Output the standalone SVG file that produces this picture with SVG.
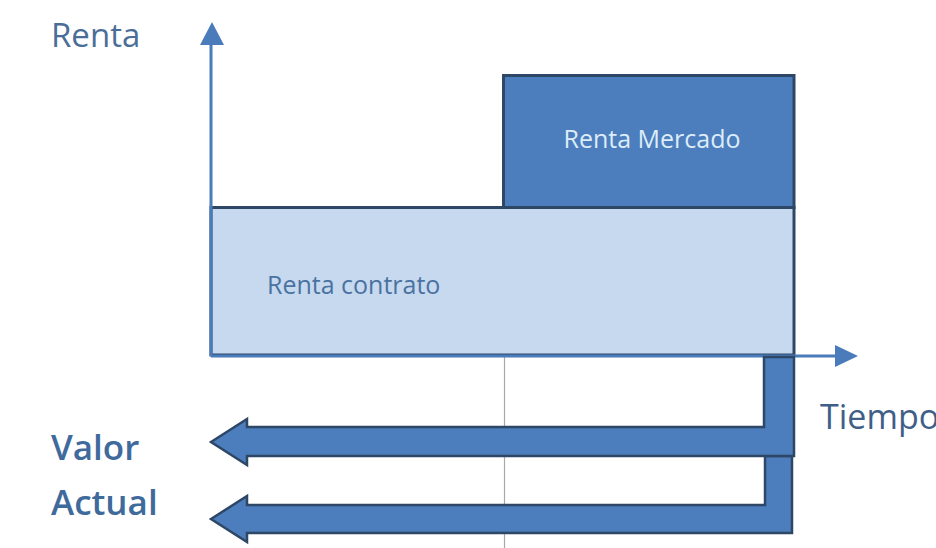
<svg xmlns="http://www.w3.org/2000/svg" width="936" height="548" viewBox="0 0 936 548">
<style>
.lbl{font-family:"Open Sans","Noto Sans","Liberation Sans",sans-serif;font-weight:500;}
.axis{stroke:#4a7bba;stroke-width:3;fill:none;}
.head{fill:#4a7bba;}
.box{stroke:#2e4766;stroke-width:3;}
.flow{fill:#4c7dbd;stroke:#2e4766;stroke-width:2.5;stroke-linejoin:miter;}
</style>
<rect width="936" height="548" fill="#ffffff"/>
<g id="guide">
<line x1="504.5" y1="357" x2="504.5" y2="548" stroke="#a8a8a8" stroke-width="1.2"/>
</g>
<g id="contrato">
<rect class="box" x="211" y="207.5" width="583" height="147.5" fill="#c6d9ef"/>
<text class="lbl" x="267" y="294" font-size="25" fill="#4a72a0">Renta contrato</text>
</g>
<g id="mercado">
<rect class="box" x="503.5" y="75.5" width="290.5" height="132" fill="#4c7dbd"/>
<text class="lbl" x="652" y="148" font-size="25" fill="#dcecf8" text-anchor="middle">Renta Mercado</text>
</g>
<g id="connectors">
<line class="axis" x1="211" y1="356" x2="211" y2="42"/>
<polygon class="head" points="212,22 200,45 224,45"/>
<line class="axis" x1="211" y1="356" x2="838" y2="356"/>
<polygon class="head" points="858,356 835,345 835,367"/>
<path class="flow" d="M211,519 L247,496 L247,505 L765,505 L765,456 L792,456 L792,533 L247,533 L247,542 Z"/>
<path class="flow" d="M211,442 L247,419 L247,427 L764,427 L764,357 L794,357 L794,456 L247,456 L247,465 Z"/>
</g>
<g id="labels">
<text class="lbl" x="51" y="47" font-size="33" fill="#4a6e98">Renta</text>
<text class="lbl" x="820" y="429" font-size="34" fill="#3f5f88">Tiempo</text>
<text class="lbl" x="51" y="460" font-size="35" font-weight="600" fill="#3f6a9c" style="font-weight:600">Valor</text>
<text class="lbl" x="51" y="515" font-size="35" font-weight="600" fill="#3f6a9c" style="font-weight:600">Actual</text>
</g>
</svg>
